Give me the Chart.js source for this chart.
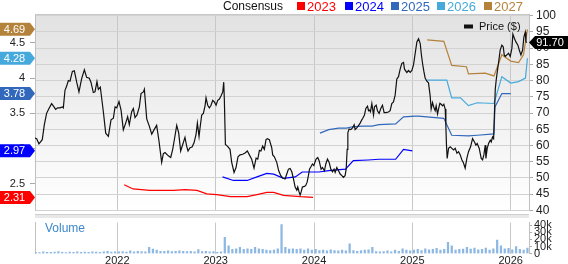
<!DOCTYPE html>
<html>
<head>
<meta charset="utf-8">
<script src="https://cdn.jsdelivr.net/npm/chart.js@4.4.1/dist/chart.umd.min.js"></script>
<style>
  body { margin: 0; background: #fff; }
  #wrap { position: relative; width: 568px; height: 264px; overflow: hidden; }
  #priceChart { position: absolute; left: 0; top: 0; }
  #volChart { position: absolute; left: 0; top: 214px; }
</style>
</head>
<body>
<div id="wrap">
  <canvas id="priceChart" width="568" height="222"></canvas>
  <canvas id="volChart" width="568" height="50"></canvas>
</div>
<script>
// price, $ (dates as decimal years)
var priceDates = [2021.163,2021.180,2021.203,2021.237,2021.258,2021.281,2021.305,2021.332,2021.349,2021.373,2021.393,2021.417,2021.441,2021.451,2021.468,2021.485,2021.502,2021.519,2021.543,2021.563,2021.587,2021.610,2021.638,2021.665,2021.688,2021.715,2021.732,2021.756,2021.773,2021.793,2021.807,2021.827,2021.858,2021.882,2021.909,2021.936,2021.960,2021.977,2021.994,2022.017,2022.038,2022.061,2022.085,2022.105,2022.122,2022.146,2022.163,2022.180,2022.200,2022.224,2022.241,2022.265,2022.275,2022.299,2022.326,2022.350,2022.373,2022.400,2022.424,2022.451,2022.468,2022.485,
  2022.519,2022.543,2022.563,2022.583,2022.604,2022.624,2022.644,2022.665,2022.688,2022.705,2022.719,2022.739,2022.760,2022.780,2022.800,2022.814,2022.831,2022.841,2022.858,2022.875,2022.892,2022.902,2022.919,2022.936,2022.953,2022.970,2022.987,2023.004,2023.021,2023.038,2023.055,2023.072,2023.082,2023.088,2023.099,2023.119,2023.146,2023.163,2023.187,2023.207,2023.227,2023.248,2023.275,2023.299,2023.322,2023.343,2023.366,2023.390,2023.411,2023.428,2023.445,2023.461,2023.478,2023.495,2023.512,2023.526,2023.546,2023.570,2023.580,2023.597,2023.621,2023.641,2023.662,2023.682,
  2023.706,2023.723,2023.740,2023.757,2023.774,2023.791,2023.808,2023.825,2023.835,2023.848,2023.859,2023.869,2023.882,2023.903,2023.916,2023.930,2023.943,2023.954,2023.970,2023.984,2023.998,2024.011,2024.021,2024.038,2024.052,2024.072,2024.086,2024.106,2024.120,2024.137,2024.154,2024.171,2024.188,2024.204,2024.215,2024.232,2024.249,2024.266,2024.283,2024.299,2024.316,2024.327,2024.337,2024.344,2024.357,2024.374,2024.391,2024.408,2024.418,2024.435,2024.452,2024.469,2024.486,2024.496,2024.513,2024.527,2024.544,2024.554,2024.564,2024.574,2024.588,2024.605,2024.615,2024.632,2024.645,2024.662,2024.679,2024.696,2024.713,2024.730,2024.757,2024.774,2024.791,2024.808,2024.825,2024.842,2024.859,2024.876,2024.893,2024.910,2024.920,
  2024.944,2024.961,2024.978,2024.995,2025.012,2025.029,2025.046,2025.063,2025.080,2025.090,2025.103,2025.117,2025.130,2025.147,2025.164,2025.181,2025.191,2025.205,2025.219,2025.232,2025.242,2025.256,2025.266,2025.280,2025.293,2025.307,2025.320,2025.334,2025.341,2025.347,2025.354,2025.368,2025.385,2025.402,2025.419,2025.436,2025.453,2025.470,2025.487,2025.503,2025.520,2025.537,2025.554,2025.571,2025.592,2025.612,2025.632,2025.646,2025.659,2025.680,2025.700,2025.714,2025.727,2025.741,2025.748,2025.761,2025.775,2025.792,2025.802,2025.815,2025.826,2025.836,2025.843,2025.853,2025.866,2025.876,2025.893,2025.910,2025.924,2025.934,2025.944,2025.961,2025.978,2025.995,2026.012,2026.022,2026.039,2026.053,2026.073,2026.087,2026.104,2026.121,2026.134,2026.148,2026.155,2026.165];
var priceValues = [62.3,62.1,60.5,61.8,66.4,69.9,71.4,72.9,72.2,71.1,71.6,71.6,71.9,71.6,77.0,78.3,80.0,79.8,82.8,83.0,79.5,76.5,80.7,83.3,81.0,80.7,79.5,76.3,76.5,79.7,77.3,78.0,70.4,63.8,62.8,67.9,68.4,71.9,71.6,73.5,70.9,64.8,66.9,68.9,66.4,70.4,71.4,68.6,69.4,71.9,76.0,76.5,77.3,68.2,65.9,63.5,64.8,66.2,61.3,54.8,57.5,57.8,
  56.8,56.3,58.8,62.3,66.2,63.9,58.3,60.3,62.5,59.8,58.3,59.3,59.5,60.8,63.3,66.9,62.8,65.4,69.4,69.9,72.2,74.7,72.4,71.6,72.4,73.9,73.4,72.4,73.9,74.3,75.3,76.5,79.5,74.5,60.3,59.8,58.8,54.8,51.7,53.2,56.5,57.1,57.3,57.7,58.3,57.1,55.8,53.0,56.1,55.8,58.5,58.3,59.8,58.8,61.8,62.1,61.8,59.3,57.1,56.5,54.8,52.2,50.7,50.0,
  49.7,51.2,52.7,52.9,51.9,49.7,47.2,46.2,47.2,45.7,44.7,45.7,47.2,47.4,47.7,48.7,50.7,52.7,53.5,54.3,53.8,55.0,55.8,56.3,55.3,52.7,53.2,52.2,54.3,55.8,54.8,52.7,51.9,52.7,51.7,53.2,52.2,51.2,50.7,50.2,50.7,52.7,58.8,63.9,65.1,64.9,65.4,66.4,64.9,65.4,66.1,66.9,67.9,68.4,69.4,71.4,72.1,70.7,70.9,70.4,72.9,69.4,71.9,72.4,70.7,69.9,71.4,72.4,70.1,70.1,70.3,70.7,72.9,73.4,75.5,80.5,81.2,83.5,85.3,85.6,83.5,
  82.5,83.1,82.5,83.1,84.9,88.4,91.9,92.9,91.4,88.4,85.4,82.8,80.8,79.8,79.3,75.3,71.2,73.2,71.7,70.7,72.2,69.7,71.2,73.0,72.7,72.2,72.7,71.2,65.7,60.1,56.0,59.1,59.6,59.1,58.6,59.1,57.6,58.1,57.1,55.6,54.6,53.0,56.0,58.1,59.6,62.1,61.1,60.1,60.6,59.1,56.0,55.6,57.1,60.1,56.0,59.1,60.6,61.6,61.1,62.6,62.1,71.2,77.3,80.3,83.3,85.4,89.4,90.9,90.4,87.9,87.4,87.9,88.4,87.4,89.9,94.3,92.9,91.9,90.9,89.4,87.9,89.4,93.4,94.9,91.9,91.70];

// consensus EPS by fiscal year
var eps2023Dates = [2022.07,2022.16,2022.33,2022.57,2022.69,2022.81,2022.91,2023.01,2023.15,2023.32,2023.42,2023.52,2023.59,2023.69,2023.86,2023.99];
var eps2023Values = [2.49,2.43,2.41,2.41,2.42,2.41,2.36,2.35,2.32,2.32,2.35,2.38,2.38,2.34,2.32,2.31];
var eps2024Dates = [2023.07,2023.18,2023.32,2023.42,2023.52,2023.59,2023.69,2023.81,2023.88,2024.05,2024.15,2024.32,2024.40,2024.55,2024.66,2024.83,2024.91,2025.00];
var eps2024Values = [2.60,2.55,2.55,2.60,2.65,2.64,2.58,2.60,2.67,2.67,2.69,2.71,2.83,2.84,2.85,2.85,2.99,2.97];
var eps2025Dates = [2024.06,2024.15,2024.25,2024.33,2024.39,2024.49,2024.59,2024.66,2024.83,2024.91,2025.03,2025.06,2025.32,2025.40,2025.57,2025.66,2025.83,2025.84,2025.91,2026.00];
var eps2025Values = [3.22,3.27,3.29,3.29,3.31,3.32,3.32,3.34,3.35,3.45,3.46,3.46,3.43,3.19,3.18,3.19,3.21,3.59,3.78,3.78];
var eps2026Dates = [2025.15,2025.35,2025.40,2025.49,2025.57,2025.66,2025.83,2025.91,2026.00,2026.08,2026.15,2026.17];
var eps2026Values = [3.97,3.97,3.72,3.72,3.61,3.65,3.64,4.02,3.93,3.95,4.00,4.28];
var eps2027Dates = [2025.15,2025.32,2025.40,2025.55,2025.57,2025.74,2025.83,2025.91,2026.00,2026.08,2026.13,2026.17];
var eps2027Values = [4.54,4.52,4.18,4.16,4.06,4.07,4.03,4.33,4.24,4.22,4.33,4.69];

// volume, thousands of shares, every two weeks from 2021.17
var volStart = 2021.17;
var volValues = [2,1.5,2.5,2,1.8,2.2,3,2,1.7,2.4,2,2.6,1.8,2.2,2,2.8,2.3,2,2.5,3.5,2.2,2.6,
  2.5,3,2.2,4,2.8,3.5,3,2.6,9,6.5,5,3.2,3.5,4,3,3.2,4,3.3,3,3.5,2.8,5.8,3,3.2,2.5,3,
  2,2.5,23,11,6,7,9,6,7,6,9,7,6,5,4.5,5,7,41,9,6.5,7,6,7,5,7,5,
  6,4.5,5,4,5.5,4.5,4,5,4,14,4.5,3.5,4.5,5,5.5,9,3,2.5,3,4,2.5,5,3.5,7,5,4,
  5,6,4.5,7,5.5,6,7.5,5,6,16,11,5,6,6.5,9,6.5,8,5.5,6,8,5,7,19,11,7,7.5,
  5.5,10,6,5,8];
var volDates = volValues.map(function (v, i) { return volStart + i / 26; });

var yearTicks = ['2022', '2023', '2024', '2025', '2026'];
var seriesNames = ['2023', '2024', '2025', '2026', '2027'];
var seriesColors = ['#ff0000', '#0000ff', '#3268bb', '#45a9dc', '#b5823c'];

var X_MIN = 2021.163, X_MAX = 2026.186;
var FONT = '"Liberation Sans", Arial, sans-serif';
Chart.defaults.font.family = FONT;
Chart.defaults.color = '#222';

function pts(xs, ys) {
  return xs.map(function (x, i) { return { x: x, y: ys[i] }; });
}

var epsSets = [
  [eps2023Dates, eps2023Values], [eps2024Dates, eps2024Values], [eps2025Dates, eps2025Values],
  [eps2026Dates, eps2026Values], [eps2027Dates, eps2027Values]
];

var datasets = [{
  label: 'Price ($)', data: pts(priceDates, priceValues), yAxisID: 'yP',
  borderColor: '#111', borderWidth: 1.2, pointRadius: 0, tension: 0
}];
epsSets.forEach(function (s, i) {
  datasets.push({
    label: seriesNames[i], data: pts(s[0], s[1]), yAxisID: 'yE',
    borderColor: seriesColors[i], borderWidth: 1.2, pointRadius: 0, tension: 0
  });
});

function tagLeft(ctx, y, color, text) {
  ctx.fillStyle = color;
  ctx.beginPath();
  ctx.moveTo(0, y - 6.5); ctx.lineTo(30, y - 6.5); ctx.lineTo(35, y);
  ctx.lineTo(30, y + 6.5); ctx.lineTo(0, y + 6.5); ctx.closePath();
  ctx.fill();
  ctx.fillStyle = '#fff';
  ctx.font = '11px ' + FONT;
  ctx.textAlign = 'center';
  ctx.textBaseline = 'middle';
  ctx.fillText(text, 14.5, y + 0.5);
}

var pricePlugin = {
  id: 'pricedeco',
  beforeDraw: function (chart) {
    var ctx = chart.ctx, a = chart.chartArea;
    ctx.save();
    ctx.fillStyle = '#fff';
    ctx.fillRect(0, 0, chart.width, chart.height);
    var g = ctx.createLinearGradient(0, a.top, 0, a.bottom);
    g.addColorStop(0, '#e2e2e2');
    g.addColorStop(1, '#ffffff');
    ctx.fillStyle = g;
    ctx.fillRect(a.left, a.top, a.right - a.left, a.bottom - a.top);
    ctx.restore();
  },
  afterDraw: function (chart) {
    var ctx = chart.ctx, a = chart.chartArea;
    ctx.save();
    ctx.strokeStyle = '#c8c8c8';
    ctx.lineWidth = 1;
    ctx.beginPath(); ctx.moveTo(a.left, a.top + 0.5); ctx.lineTo(a.right, a.top + 0.5); ctx.stroke();

    // legend
    ctx.textAlign = 'left';
    ctx.textBaseline = 'alphabetic';
    ctx.font = '12px ' + FONT;
    ctx.fillStyle = '#111';
    ctx.fillText('Consensus', 223, 10);
    var lx = [297, 345, 391, 437, 484];
    ctx.font = '13px ' + FONT;
    seriesNames.forEach(function (n, i) {
      ctx.fillStyle = seriesColors[i];
      ctx.fillRect(lx[i], 2, 8, 8);
      ctx.fillText(n, lx[i] + 10, 10.5);
    });
    ctx.fillStyle = '#111';
    ctx.fillRect(464, 24.5, 9, 4);
    ctx.font = '11px ' + FONT;
    ctx.fillText('Price ($)', 479, 30);

    // last-value tags
    var yE = chart.scales.yE, yP = chart.scales.yP;
    epsSets.forEach(function (s, i) {
      var v = s[1][s[1].length - 1];
      tagLeft(ctx, yE.getPixelForValue(v), seriesColors[i], v.toFixed(2));
    });
    var last = priceValues[priceValues.length - 1];
    var py = yP.getPixelForValue(last);
    ctx.fillStyle = '#000';
    ctx.beginPath();
    ctx.moveTo(a.right, py); ctx.lineTo(a.right + 6, py - 6.5); ctx.lineTo(568, py - 6.5);
    ctx.lineTo(568, py + 6.5); ctx.lineTo(a.right + 6, py + 6.5); ctx.closePath();
    ctx.fill();
    ctx.fillStyle = '#fff';
    ctx.font = '11px ' + FONT;
    ctx.textAlign = 'center';
    ctx.textBaseline = 'middle';
    ctx.fillText(last.toFixed(2), 550, py + 0.5);
    ctx.restore();
  }
};

new Chart(document.getElementById('priceChart'), {
  type: 'line',
  data: { datasets: datasets },
  options: {
    responsive: false, animation: false, devicePixelRatio: 1,
    layout: { padding: { top: 14, bottom: 8, left: 0, right: 0 } },
    plugins: { legend: { display: false }, tooltip: { enabled: false } },
    scales: {
      x: {
        type: 'linear', min: X_MIN, max: X_MAX, position: 'bottom',
        ticks: { display: false, stepSize: 1, includeBounds: false },
        grid: { color: '#c8c8c8', drawTicks: false },
        border: { display: false },
        afterFit: function (s) { s.height = 0; }
      },
      yP: {
        position: 'right', min: 40, max: 100.5,
        ticks: { stepSize: 5, includeBounds: false, autoSkip: false, padding: 3, font: { size: 12 }, color: '#222' },
        grid: { color: '#d2d2d2', tickLength: 4, tickColor: '#aaa' },
        border: { color: '#c0c0c0' },
        afterFit: function (s) { s.width = 39; }
      },
      yE: {
        position: 'left', min: 2.126, max: 4.907,
        ticks: {
          stepSize: 0.5, includeBounds: false, autoSkip: false, padding: 5, font: { size: 11 }, color: '#222',
          callback: function (v) { return String(+v.toFixed(2)); }
        },
        grid: { drawOnChartArea: false, tickLength: 5, tickColor: '#aaa' },
        border: { color: '#c0c0c0' },
        afterFit: function (s) { s.width = 35; }
      }
    }
  },
  plugins: [pricePlugin]
});

var volPlugin = {
  id: 'voldeco',
  beforeDraw: function (chart) {
    var ctx = chart.ctx, a = chart.chartArea;
    ctx.save();
    ctx.fillStyle = '#fff';
    ctx.fillRect(a.left, 0, a.right - a.left, a.bottom);
    ctx.fillStyle = '#e8e8e8';
    ctx.fillRect(a.left, 0, a.right - a.left, 4);
    ctx.fillStyle = '#cfcfcf';
    ctx.fillRect(a.left, 0, a.right - a.left, 1);
    ctx.restore();
  },
  afterDraw: function (chart) {
    var ctx = chart.ctx;
    ctx.save();
    ctx.fillStyle = '#3c88cc';
    ctx.font = '12px ' + FONT;
    ctx.textBaseline = 'middle';
    ctx.fillText('Volume', 45, 15);
    ctx.restore();
  }
};

new Chart(document.getElementById('volChart'), {
  type: 'bar',
  data: {
    datasets: [{
      label: 'Volume', data: pts(volDates, volValues), yAxisID: 'yV',
      backgroundColor: '#8db8e3', barThickness: 1.6, borderWidth: 0
    }]
  },
  options: {
    responsive: false, animation: false, devicePixelRatio: 1,
    layout: { padding: { top: 4, bottom: 0, left: 0, right: 0 } },
    plugins: { legend: { display: false }, tooltip: { enabled: false } },
    scales: {
      x: {
        type: 'linear', min: X_MIN, max: X_MAX, position: 'bottom', offset: false,
        ticks: {
          stepSize: 1, includeBounds: false, padding: 1, font: { size: 11 }, color: '#222',
          callback: function (v) { return yearTicks[Math.round(v) - 2022] || ''; }
        },
        grid: { color: '#c8c8c8', drawTicks: false, offset: false },
        border: { display: false },
        afterFit: function (s) { s.height = 10.3; }
      },
      yV: {
        position: 'right', min: 0, max: 43.7,
        ticks: {
          stepSize: 10, includeBounds: false, autoSkip: false, padding: 2, font: { size: 11 }, color: '#222',
          callback: function (v) { return v === 0 ? '0' : v + 'k'; }
        },
        grid: { drawOnChartArea: false, tickLength: 3, tickColor: '#aaa' },
        border: { color: '#c0c0c0' },
        afterFit: function (s) { s.width = 39; }
      },
      yL: {
        position: 'left', min: 0, max: 1,
        ticks: { display: false },
        grid: { display: false },
        border: { color: '#c0c0c0' },
        afterFit: function (s) { s.width = 35; }
      }
    }
  },
  plugins: [volPlugin]
});
</script>
</body>
</html>
